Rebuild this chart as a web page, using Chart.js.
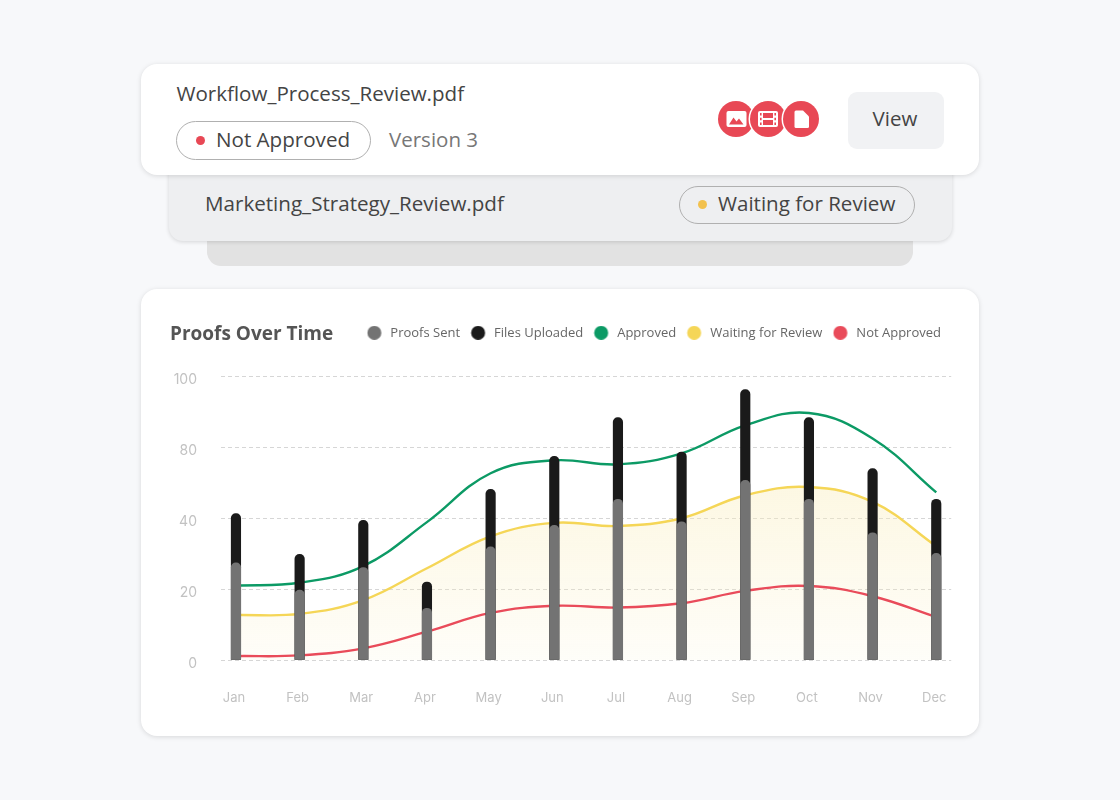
<!DOCTYPE html>
<html><head><meta charset="utf-8">
<script src="https://cdn.jsdelivr.net/npm/chart.js@4"></script>
<style>
html,body{margin:0;padding:0;width:1120px;height:800px;overflow:hidden;background:#f7f8fa;font-family:"Open Sans",sans-serif;color:#444}
.abs{position:absolute}
.card{position:absolute;background:#fff;border-radius:16px;box-shadow:0 1px 5px rgba(0,0,0,.13)}
.t{position:absolute;white-space:nowrap;line-height:30px;height:30px}
.pill{position:absolute;box-sizing:border-box;border:1.6px solid #b0b0b0;border-radius:20px}
.dot{position:absolute;border-radius:50%}
.ic{position:absolute;width:36px;height:36px;border-radius:50%;background:#e84855;box-shadow:0 0 0 1.5px #fff}
.ic svg{position:absolute;left:0;top:0}
</style></head><body>
<div class="abs" style="left:207px;top:220px;width:706px;height:46px;background:#e2e2e2;border-radius:0 0 14px 14px"></div>
<div class="card" style="left:169px;top:150px;width:783px;height:91px;background:#eeeff1;border-radius:14px;box-shadow:0 1px 4px rgba(0,0,0,.14)"></div>
<div class="card" style="left:141px;top:64px;width:838px;height:111px"></div>
<div class="t" style="left:176.5px;top:78px;font-size:20.55px;color:#444">Workflow_Process_Review.pdf</div>
<div class="pill" style="left:176px;top:121px;width:195px;height:39px"></div>
<div class="dot" style="left:195.5px;top:135.5px;width:9px;height:9px;background:#e84855"></div>
<div class="t" style="left:216px;top:124px;font-size:20.6px;color:#444">Not Approved</div>
<div class="t" style="left:389px;top:124px;font-size:20.5px;color:#777">Version 3</div>
<div class="ic" style="left:717.5px;top:101px"><svg width="36" height="36" viewBox="0 0 36 36"><rect x="8.5" y="10" width="20" height="16" rx="2" fill="#fff"/><path d="M11 23.5l4.5-7 3 4 2.5-3 4.5 6z" fill="#e84855"/></svg></div>
<div class="ic" style="left:750px;top:101px"><svg width="36" height="36" viewBox="0 0 36 36"><rect x="8" y="10" width="20" height="16" rx="2" fill="#fff"/><path d="M13 12h10v5h-10zM13 19h10v5h-10z" fill="#e84855"/><path d="M10 12h1.6v2.4h-1.6zM10 16.8h1.6v2.4h-1.6zM10 21.6h1.6v2.4h-1.6zM24.4 12h1.6v2.4h-1.6zM24.4 16.8h1.6v2.4h-1.6zM24.4 21.6h1.6v2.4h-1.6z" fill="#e84855"/></svg></div>
<div class="ic" style="left:783px;top:101px"><svg width="36" height="36" viewBox="0 0 36 36"><path d="M13 9.5h7l6 6v10a1.5 1.5 0 0 1-1.5 1.5h-11.5a1.5 1.5 0 0 1-1.5-1.5v-14.500a1.500 1.500 0 0 1 1.500-1.500z" fill="#fff"/></svg></div>
<div class="abs" style="left:848px;top:92px;width:96px;height:57px;background:#f1f2f4;border-radius:9px"></div>
<div class="t" style="left:847px;width:96px;text-align:center;top:103px;font-size:20.5px;color:#444">View</div>
<div class="t" style="left:205px;top:188px;font-size:20.6px;color:#444">Marketing_Strategy_Review.pdf</div>
<div class="pill" style="left:679px;top:185.500px;width:236px;height:38px"></div>
<div class="dot" style="left:697.500px;top:199.500px;width:9px;height:9px;background:#f2c14e"></div>
<div class="t" style="left:718px;top:188px;font-size:20.55px;color:#444">Waiting for Review</div>
<div class="card" style="left:141px;top:289px;width:838px;height:447px"></div>
<canvas id="c" class="abs" style="left:141px;top:289px" width="838" height="447"></canvas>
<script>
const months = ['Jan','Feb','Mar','Apr','May','Jun','Jul','Aug','Sep','Oct','Nov','Dec'];
const yTickLabels = [0,20,40,80,100];
const proofsSent = [27.4,19.7,26.1,14.6,31.9,38,50.7,39,61.4,50.7,35.9,30.1];
const filesUploaded = [42.6,29.8,39.4,22,56.3,74.9,88.4,77.4,96.3,88.4,68,50.7];
const approved = [21,21.8,26.5,38.9,65.4,72.7,70.4,76.6,86.2,89.7,82.5,54.6];
const waiting = [12.7,13,16.9,25.9,34.9,38.7,37.8,40,53,57.6,49.2,32.1];
const notApproved = [1.1,1.3,3.3,8,13.3,15.3,14.8,16,19.5,20.9,18,12.1];

// The printed axis is evenly spaced but its labels are not (0,20,40,80,100),
// so a value is placed by where it falls between two printed ticks.
function axisPos(v){
  for(let i=0;i<yTickLabels.length-1;i++){
    if(v<=yTickLabels[i+1]) return i+(v-yTickLabels[i])/(yTickLabels[i+1]-yTickLabels[i]);
  }
  return yTickLabels.length-1;
}
const pts = arr => arr.map((v,i)=>({x:i,y:axisPos(v)}));
const lineDs = (label,data,color,order,extra)=>Object.assign({type:'line',label,data:pts(data),borderColor:color,borderWidth:2.4,pointRadius:0,tension:.4,fill:false,order},extra||{});
const barDs = (label,data,color,order)=>({type:'bar',label,data:pts(data),backgroundColor:color,barThickness:9.5,grouped:false,order,borderSkipped:'bottom',borderRadius:{topLeft:5,topRight:5,bottomLeft:0,bottomRight:0}});
const legendColors = ['#737373','#1a1a1a','#0c9a65','#f5d657','#e94b5a'];
function legendDot(color){
  const k=document.createElement('canvas');k.width=18;k.height=14;
  const g=k.getContext('2d');g.fillStyle=color;g.beginPath();g.arc(7.75,7,7,0,Math.PI*2);g.fill();
  return k;
}
const legendGap = {id:'legendGap',beforeInit(ch){
  const l=ch.legend,f=l.fit;
  l.fit=function(){f.call(this);this.height+=19.5;};
}};

new Chart(document.getElementById('c'),{
  type:'bar',
  plugins:[legendGap],
  data:{datasets:[
    barDs('Proofs Sent',proofsSent,'#737373',1),
    barDs('Files Uploaded',filesUploaded,'#1a1a1a',2),
    lineDs('Approved',approved,'#0c9a65',3),
    lineDs('Waiting for Review',waiting,'#f5d657',5,{fill:'origin',backgroundColor:ctx=>{
      const a=ctx.chart.chartArea; if(!a) return 'rgba(250,240,200,.3)';
      const g=ctx.chart.ctx.createLinearGradient(0,a.top+100,0,a.bottom);
      g.addColorStop(0,'rgba(250,238,190,.45)');g.addColorStop(1,'rgba(250,238,190,.1)');return g;}}),
    lineDs('Not Approved',notApproved,'#e94b5a',4)
  ]},
  options:{
    responsive:false,animation:false,devicePixelRatio:1,
    layout:{padding:{left:29,right:27,top:34,bottom:0}},
    plugins:{
      tooltip:{enabled:false},
      title:{display:true,text:'Proofs Over Time',align:'start',color:'#555',font:{family:'"Open Sans"',size:19,weight:'700'},padding:{top:0,bottom:-30.5}},
      legend:{display:true,position:'top',align:'end',labels:{
        usePointStyle:true,pointStyleWidth:16.5,boxHeight:10,padding:11,color:'#666',font:{family:'"Open Sans"',size:13},
        generateLabels:ch=>ch.data.datasets.map((d,i)=>({text:d.label,fillStyle:legendColors[i],strokeStyle:legendColors[i],lineWidth:0,pointStyle:legendDot(legendColors[i]),datasetIndex:i,fontColor:'#666'}))
      }}
    },
    scales:{
      x:{type:'linear',offset:false,min:-.235,max:11.235,
        afterBuildTicks:s=>{s.ticks=months.map((m,i)=>({value:i}));},
        afterFit:s=>{s.height=76;},
        grid:{display:false,offset:false},border:{display:false},
        ticks:{autoSkip:false,maxRotation:0,padding:30,labelOffset:-2,color:'#c2c2c2',font:{family:'Inter',size:13,weight:'400'},callback:v=>months[v]}},
      y:{type:'linear',min:0,max:yTickLabels.length-1,
        afterBuildTicks:s=>{s.ticks=yTickLabels.map((l,i)=>({value:i}));},
        afterFit:s=>{s.width=51;},
        grid:{color:'#d6d6d6',lineWidth:1,drawTicks:false,tickLength:0},border:{display:false,dash:[4,3]},
        ticks:{padding:24,labelOffset:3.5,color:'#c2c2c2',font:{family:'Inter',size:14,weight:'400'},callback:v=>yTickLabels[v]}}
    }
  }
});
</script>
</body></html>
